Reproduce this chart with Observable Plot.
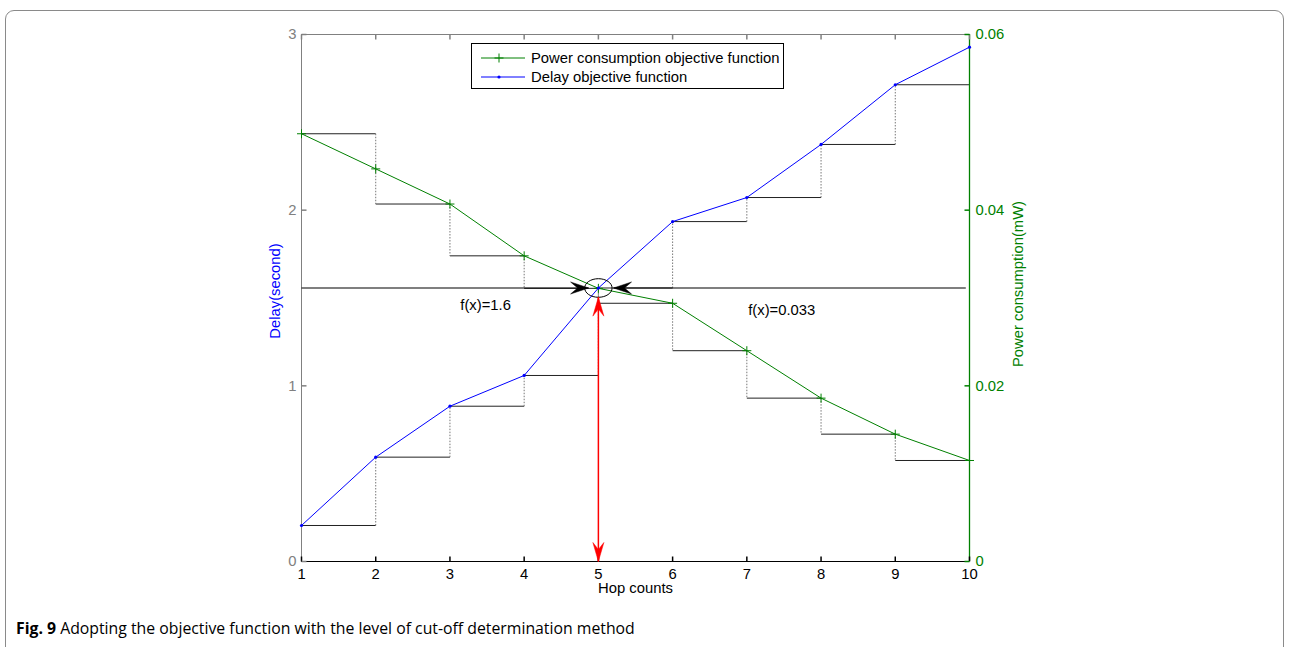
<!DOCTYPE html>
<html><head><meta charset="utf-8">
<script src="https://cdn.jsdelivr.net/npm/d3@7"></script>
<script src="https://cdn.jsdelivr.net/npm/@observablehq/plot@0.6"></script>
<style>
html,body{margin:0;padding:0;background:#fff;overflow:hidden;width:1289px;height:647px;}
#frame{position:absolute;left:5px;top:10px;width:1277px;height:700px;border:1.5px solid #8a8a8a;border-radius:9px;}
#chart{position:absolute;left:0;top:0;}
#legend{position:absolute;left:471px;top:43px;width:311px;height:44px;border:1px solid #000;background:#fff;font:14.8px "Liberation Sans",Arial,sans-serif;color:#000;}
#legend .row{position:absolute;left:0;height:18px;line-height:18px;white-space:nowrap;}
#legend svg{position:absolute;left:9px;top:0;}
#legend span{position:absolute;left:59px;top:0;}
#caption{position:absolute;left:16px;top:617px;font:15.8px "Open Sans",sans-serif;color:#000;white-space:nowrap;}
</style></head>
<body>
<div id="frame"></div>
<div id="chart"></div>
<div id="legend">
  <div class="row" style="top:5px"><svg width="44" height="18"><line x1="0" y1="9" x2="44" y2="9" stroke="#008000"/><line x1="18" y1="4.5" x2="18" y2="13.5" stroke="#008000"/><line x1="13.5" y1="9" x2="22.5" y2="9" stroke="#008000"/></svg><span>Power consumption objective function</span></div>
  <div class="row" style="top:24px"><svg width="44" height="18"><line x1="0" y1="9" x2="44" y2="9" stroke="#0000ff"/><circle cx="18" cy="9" r="1.6" fill="#0000ff"/></svg><span>Delay objective function</span></div>
</div>
<div id="caption"><b>Fig. 9</b> Adopting the objective function with the level of cut-off determination method</div>
<script>
// ---- data ----
const hops = [1, 2, 3, 4, 5, 6, 7, 8, 9, 10];
const delay = [0.205, 0.594, 0.884, 1.059, 1.557, 1.935, 2.072, 2.374, 2.714, 2.928];
const power = [0.0487, 0.0447, 0.0407, 0.0348, 0.0311, 0.0294, 0.0240, 0.0186, 0.0145, 0.0115];
const delayTicks = [0, 1, 2, 3];
const powerTicks = [0, 0.02, 0.04, 0.06];
const delayMax = 3, powerMax = 0.06;
const cutoffHop = 5;
const cutoffLabels = ["f(x)=1.6", "f(x)=0.033"];
const cutoffLabelX = [3.48, 7.47];
const cutoffLabelY = [1.457, 1.429];
const arrowLeftEnd = 4.868, arrowRightStart = 9.95, arrowRightEnd = 5.204;
const redArrowTop = 1.505;

// ---- derived ----
const k = delayMax / powerMax;
const powerY = power.map(p => p * k);
const pts = hops.map((h, i) => ({h, d: delay[i], p: powerY[i]}));
const cutoffY = delay[hops.indexOf(cutoffHop)];

const dH = d3.range(hops.length - 1).map(i => ({x1: hops[i], x2: hops[i + 1], y: delay[i]}));
const dV = d3.range(hops.length - 1).map(i => ({x: hops[i + 1], y1: delay[i], y2: delay[i + 1]}));
const levels = [powerY[0], ...powerY.slice(2)];
const pH = d3.range(hops.length - 1).map(i => ({x1: hops[i], x2: hops[i + 1], y: levels[i]}));
const pV = d3.range(levels.length - 1).map(i => ({x: hops[i + 1], y1: levels[i], y2: levels[i + 1]}));

// ---- symbols ----
const plusSym = {draw(c) { c.moveTo(-4.5, 0); c.lineTo(4.5, 0); c.moveTo(0, -4.5); c.lineTo(0, 4.5); }};
const tickSym = {draw(c) { c.moveTo(0, 0); c.lineTo(0, -5); }};
const headSym = (L, W, N) => ({draw(c) { c.moveTo(0, 0); c.lineTo(-L, -W); c.lineTo(-N, 0); c.lineTo(-L, W); c.closePath(); }});
const ellipseSym = {draw(c) {
  const rx = 13.7, ry = 9.3, q = 0.5523;
  c.moveTo(rx, 0);
  c.bezierCurveTo(rx, ry * q, rx * q, ry, 0, ry);
  c.bezierCurveTo(-rx * q, ry, -rx, ry * q, -rx, 0);
  c.bezierCurveTo(-rx, -ry * q, -rx * q, -ry, 0, -ry);
  c.bezierCurveTo(rx * q, -ry, rx, -ry * q, rx, 0);
  c.closePath();
}};

const green = "#008000", blue = "#0000ff", gray = "#808080";
const fs = 14.8;

const chart = Plot.plot({
  width: 1289, height: 610,
  marginLeft: 301, marginRight: 320, marginTop: 34, marginBottom: 49,
  style: {fontFamily: "'Liberation Sans', Arial, sans-serif", fontSize: fs + "px", background: "transparent"},
  x: {domain: [hops[0], hops[hops.length - 1]], axis: null},
  y: {domain: [0, delayMax], axis: null},
  marks: [
    // staircases
    Plot.link(dH, {x1: "x1", x2: "x2", y1: "y", y2: "y", stroke: "#222", strokeWidth: 1}),
    Plot.link(pH, {x1: "x1", x2: "x2", y1: "y", y2: "y", stroke: "#222", strokeWidth: 1}),
    Plot.link(dV, {x1: "x", x2: "x", y1: "y1", y2: "y2", stroke: "#777", strokeWidth: 1, strokeDasharray: "1.5,1.5"}),
    Plot.link(pV, {x1: "x", x2: "x", y1: "y1", y2: "y2", stroke: "#777", strokeWidth: 1, strokeDasharray: "1.5,1.5"}),
    // frame
    Plot.ruleY([delayMax], {stroke: gray}),
    Plot.ruleX([hops[0]], {stroke: gray}),
    Plot.ruleY([0], {stroke: "#000"}),
    Plot.ruleX([hops[hops.length - 1]], {stroke: green, strokeWidth: 1.3}),
    // inward ticks
    Plot.dot(hops, {x: d => d, y: 0, symbol: tickSym, stroke: "#000", fill: "none"}),
    Plot.dot(hops, {x: d => d, y: delayMax, symbol: tickSym, rotate: 180, stroke: gray, fill: "none"}),
    Plot.dot(delayTicks, {x: hops[0], y: d => d, symbol: tickSym, rotate: 90, stroke: gray, fill: "none"}),
    Plot.dot(powerTicks, {x: hops[hops.length - 1], y: d => d * k, symbol: tickSym, rotate: -90, stroke: green, fill: "none"}),
    // tick labels
    Plot.axisX({anchor: "bottom", ticks: hops, tickFormat: d => String(d), tickSize: 0, tickPadding: 7, fill: "#000", label: null, fontSize: fs}),
    Plot.axisY({anchor: "left", ticks: delayTicks, tickFormat: d => String(d), tickSize: 0, tickPadding: 5, fill: gray, label: null, fontSize: fs}),
    Plot.axisY({anchor: "right", ticks: powerTicks.map(p => p * k), tickFormat: d => String(+(d / k).toFixed(3)), tickSize: 0, tickPadding: 6, fill: green, label: null, fontSize: fs}),
    // axis titles
    Plot.text(["Delay(second)"], {frameAnchor: "left", textAnchor: "middle", dx: -26, dy: -7, rotate: -90, fill: blue, fontSize: fs}),
    Plot.text(["Power consumption(mW)"], {frameAnchor: "right", textAnchor: "middle", dx: 49, dy: -14, rotate: -90, fill: green, fontSize: fs}),
    Plot.text(["Hop counts"], {frameAnchor: "bottom", dy: 31, fill: "#000", fontSize: fs}),
    // cut-off arrows
    Plot.link([0], {x1: hops[0], x2: arrowLeftEnd, y1: cutoffY, y2: cutoffY, stroke: "#000", strokeWidth: 1.2}),
    Plot.link([0], {x1: arrowRightStart, x2: arrowRightEnd, y1: cutoffY, y2: cutoffY, stroke: "#000", strokeWidth: 1.2}),
    // series
    Plot.line(pts, {x: "h", y: "p", stroke: green, strokeWidth: 1}),
    Plot.line(pts, {x: "h", y: "d", stroke: blue, strokeWidth: 1}),
    Plot.dot(pts, {x: "h", y: "p", symbol: plusSym, stroke: green, fill: "none", strokeWidth: 1}),
    Plot.dot(pts, {x: "h", y: "d", r: 1.6, fill: blue, stroke: "none"}),
    // arrow heads
    Plot.dot([0], {x: arrowLeftEnd, y: cutoffY, symbol: headSym(18, 6, 11), fill: "#000", stroke: "#000", strokeWidth: 0.5}),
    Plot.dot([0], {x: arrowRightEnd, y: cutoffY, symbol: headSym(18, 6, 11), rotate: 180, fill: "#000", stroke: "#000", strokeWidth: 0.5}),
    Plot.dot([0], {x: cutoffHop, y: cutoffY, symbol: ellipseSym, fill: "none", stroke: "#000", strokeWidth: 1}),
    // red double arrow
    Plot.link([0], {x1: cutoffHop, x2: cutoffHop, y1: 0, y2: redArrowTop, stroke: "#ff0000", strokeWidth: 1.5}),
    Plot.dot([0], {x: cutoffHop, y: redArrowTop, symbol: headSym(19, 5.5, 12), rotate: -90, fill: "#ff0000", stroke: "#ff0000", strokeWidth: 0.5}),
    Plot.dot([0], {x: cutoffHop, y: 0, symbol: headSym(19, 5.5, 12), rotate: 90, fill: "#ff0000", stroke: "#ff0000", strokeWidth: 0.5}),
    // labels
    Plot.text(cutoffLabels, {x: (d, i) => cutoffLabelX[i], y: (d, i) => cutoffLabelY[i], text: d => d, fill: "#000", fontSize: fs})
  ]
});
document.getElementById("chart").appendChild(chart);
</script>
</body></html>
